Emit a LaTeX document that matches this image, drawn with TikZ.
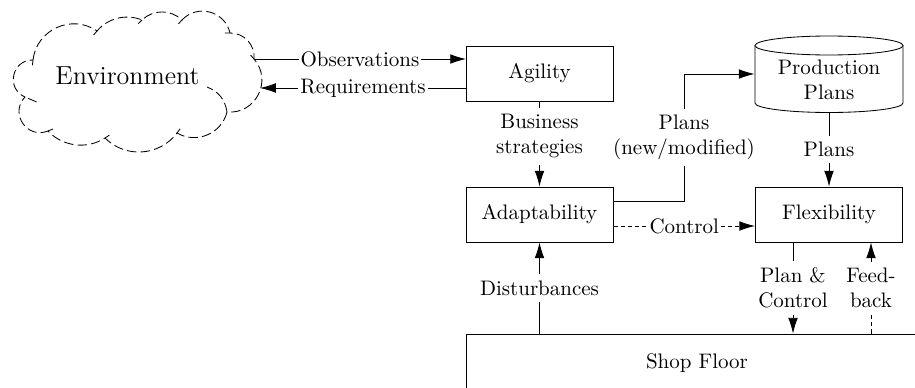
\documentclass[tikz,border=0pt]{standalone}
\usetikzlibrary{arrows.meta,calc}
\begin{document}
\begin{tikzpicture}[x=0.47619pt,y=-0.47619pt,
  box/.style={draw,minimum width=70pt,minimum height=26.2pt,inner sep=2pt},
  arr/.style={-{Latex[length=7.5pt,width=4.6pt]}},
  fine dash/.style={dash pattern=on 2pt off 1.4pt},
  cloud dash/.style={dash pattern=on 4.5pt off 2pt},
  lbl/.style={fill=white,inner xsep=1pt,inner ysep=3pt,align=center},
  puff/.style 2 args={bend left=#1, looseness=#2},
]
\useasboundingbox (0,0) rectangle (915,387);
\clip (0,0) rectangle (915,387);

% environment cloud: puffs joined at cusp points, traced clockwise
\coordinate (cA) at (33,60);
\coordinate (cB) at (97,31);
\coordinate (cC) at (142,20);
\coordinate (cD) at (182,20);
\coordinate (cE) at (230,33);
\coordinate (cF) at (254,59);
\coordinate (cG) at (260,88);
\coordinate (cH) at (227,112);
\coordinate (cI) at (177,133);
\coordinate (cJ) at (105,138);
\coordinate (cK) at (48,131);
\coordinate (cL) at (25,97);
\draw[cloud dash]
  (cA) to[puff={59}{1.12}] (cB) to[puff={36}{0.94}] (cC)
       to[puff={44}{0.99}] (cD) to[puff={62}{1.16}] (cE)
       to[puff={48}{1.02}] (cF) to[puff={68}{1.24}] (cH)
       to[puff={53}{1.06}] (cI) to[puff={49}{1.03}] (cJ)
       to[puff={40}{0.96}] (cK) to[puff={78}{1.41}] (cL)
       to[puff={79}{1.43}] (cA);
% short inward tails where the puffs meet
\draw ($(cA)!2.5pt!239:(cB)$) -- (cA);
\draw ($(cB)!2.5pt!216:(cC)$) -- (cB);
\draw ($(cC)!2.5pt!224:(cD)$) -- (cC);
\draw ($(cD)!2.5pt!242:(cE)$) -- (cD);
\draw ($(cE)!2.5pt!228:(cF)$) -- (cE);
\draw ($(cF)!2.5pt!248:(cH)$) -- (cF);
\draw ($(cI)!2.5pt!229:(cJ)$) -- (cI);
\draw ($(cJ)!2.5pt!220:(cK)$) -- (cJ);
\draw ($(cK)!2.5pt!258:(cL)$) -- (cK);
\draw[cloud dash] ($(cL)!6pt!259:(cA)$) -- (cL);
\coordinate (cT) at (207,87);
\draw[cloud dash] (cH) to[bend right=30] (cT);
\node[font=\fontsize{12.4pt}{15pt}\selectfont] (env) at (127.5,76) {Environment};

% main blocks
\node[box] (agility) at (539.5,73.5) {Agility};
\node[box] (adapt) at (539.5,214.5) {Adaptability};
\node[box] (flex) at (829,214.5) {Flexibility};
\node[draw, minimum width=220pt, minimum height=27.6pt] (shop) at (697,363) {Shop Floor};

% production plans store (cylinder)
\node[minimum width=70.5pt, minimum height=36.7pt, inner sep=0pt] (prod) at (829,74) {};
\node[align=center, inner sep=0pt] (prodtxt) at (829,79.5) {Production\\Plans};
\draw (755,45.5) -- (755,103)
      arc[start angle=180, end angle=360, x radius=35.24pt, y radius=4.52pt]
      -- (903,45.5);
\draw (829,45.5) ellipse [x radius=35.24pt, y radius=4.52pt];

% helper points for bent / offset connectors
\coordinate (obs) at (466,59);
\coordinate (req) at (466,88);
\coordinate (b1) at (684,201);
\coordinate (b2) at (684,74);
\coordinate (ctl) at (684,226);
\coordinate (pc) at (793,290);
\coordinate (fb) at (871,290);

% connectors
\draw[arr] (cF) -- node[lbl]{Observations} (obs);
\draw[arr] (req) -- node[lbl]{Requirements} (cG);
\draw[arr] (agility) -- node[lbl,pos=0.41]{Business\\strategies} (adapt);
\draw[arr] (adapt.east |- b1) -- (b1) -- node[lbl]{Plans\\(new/modified)} (b2) -- (prod.west);
\draw[arr] (prod) -- node[lbl]{Plans} (flex);
\draw[arr,fine dash] (adapt.east |- ctl) -- node[lbl]{Control} (flex.west |- ctl);
\draw[arr] (shop.north -| adapt) -- node[lbl]{Disturbances} (adapt.south);
\draw[arr] (flex.south -| pc) -- node[lbl]{Plan \&\\Control} (shop.north -| pc);
\draw[arr,fine dash] (shop.north -| fb) -- node[lbl]{Feed-\\back} (flex.south -| fb);
\end{tikzpicture}
\end{document}
